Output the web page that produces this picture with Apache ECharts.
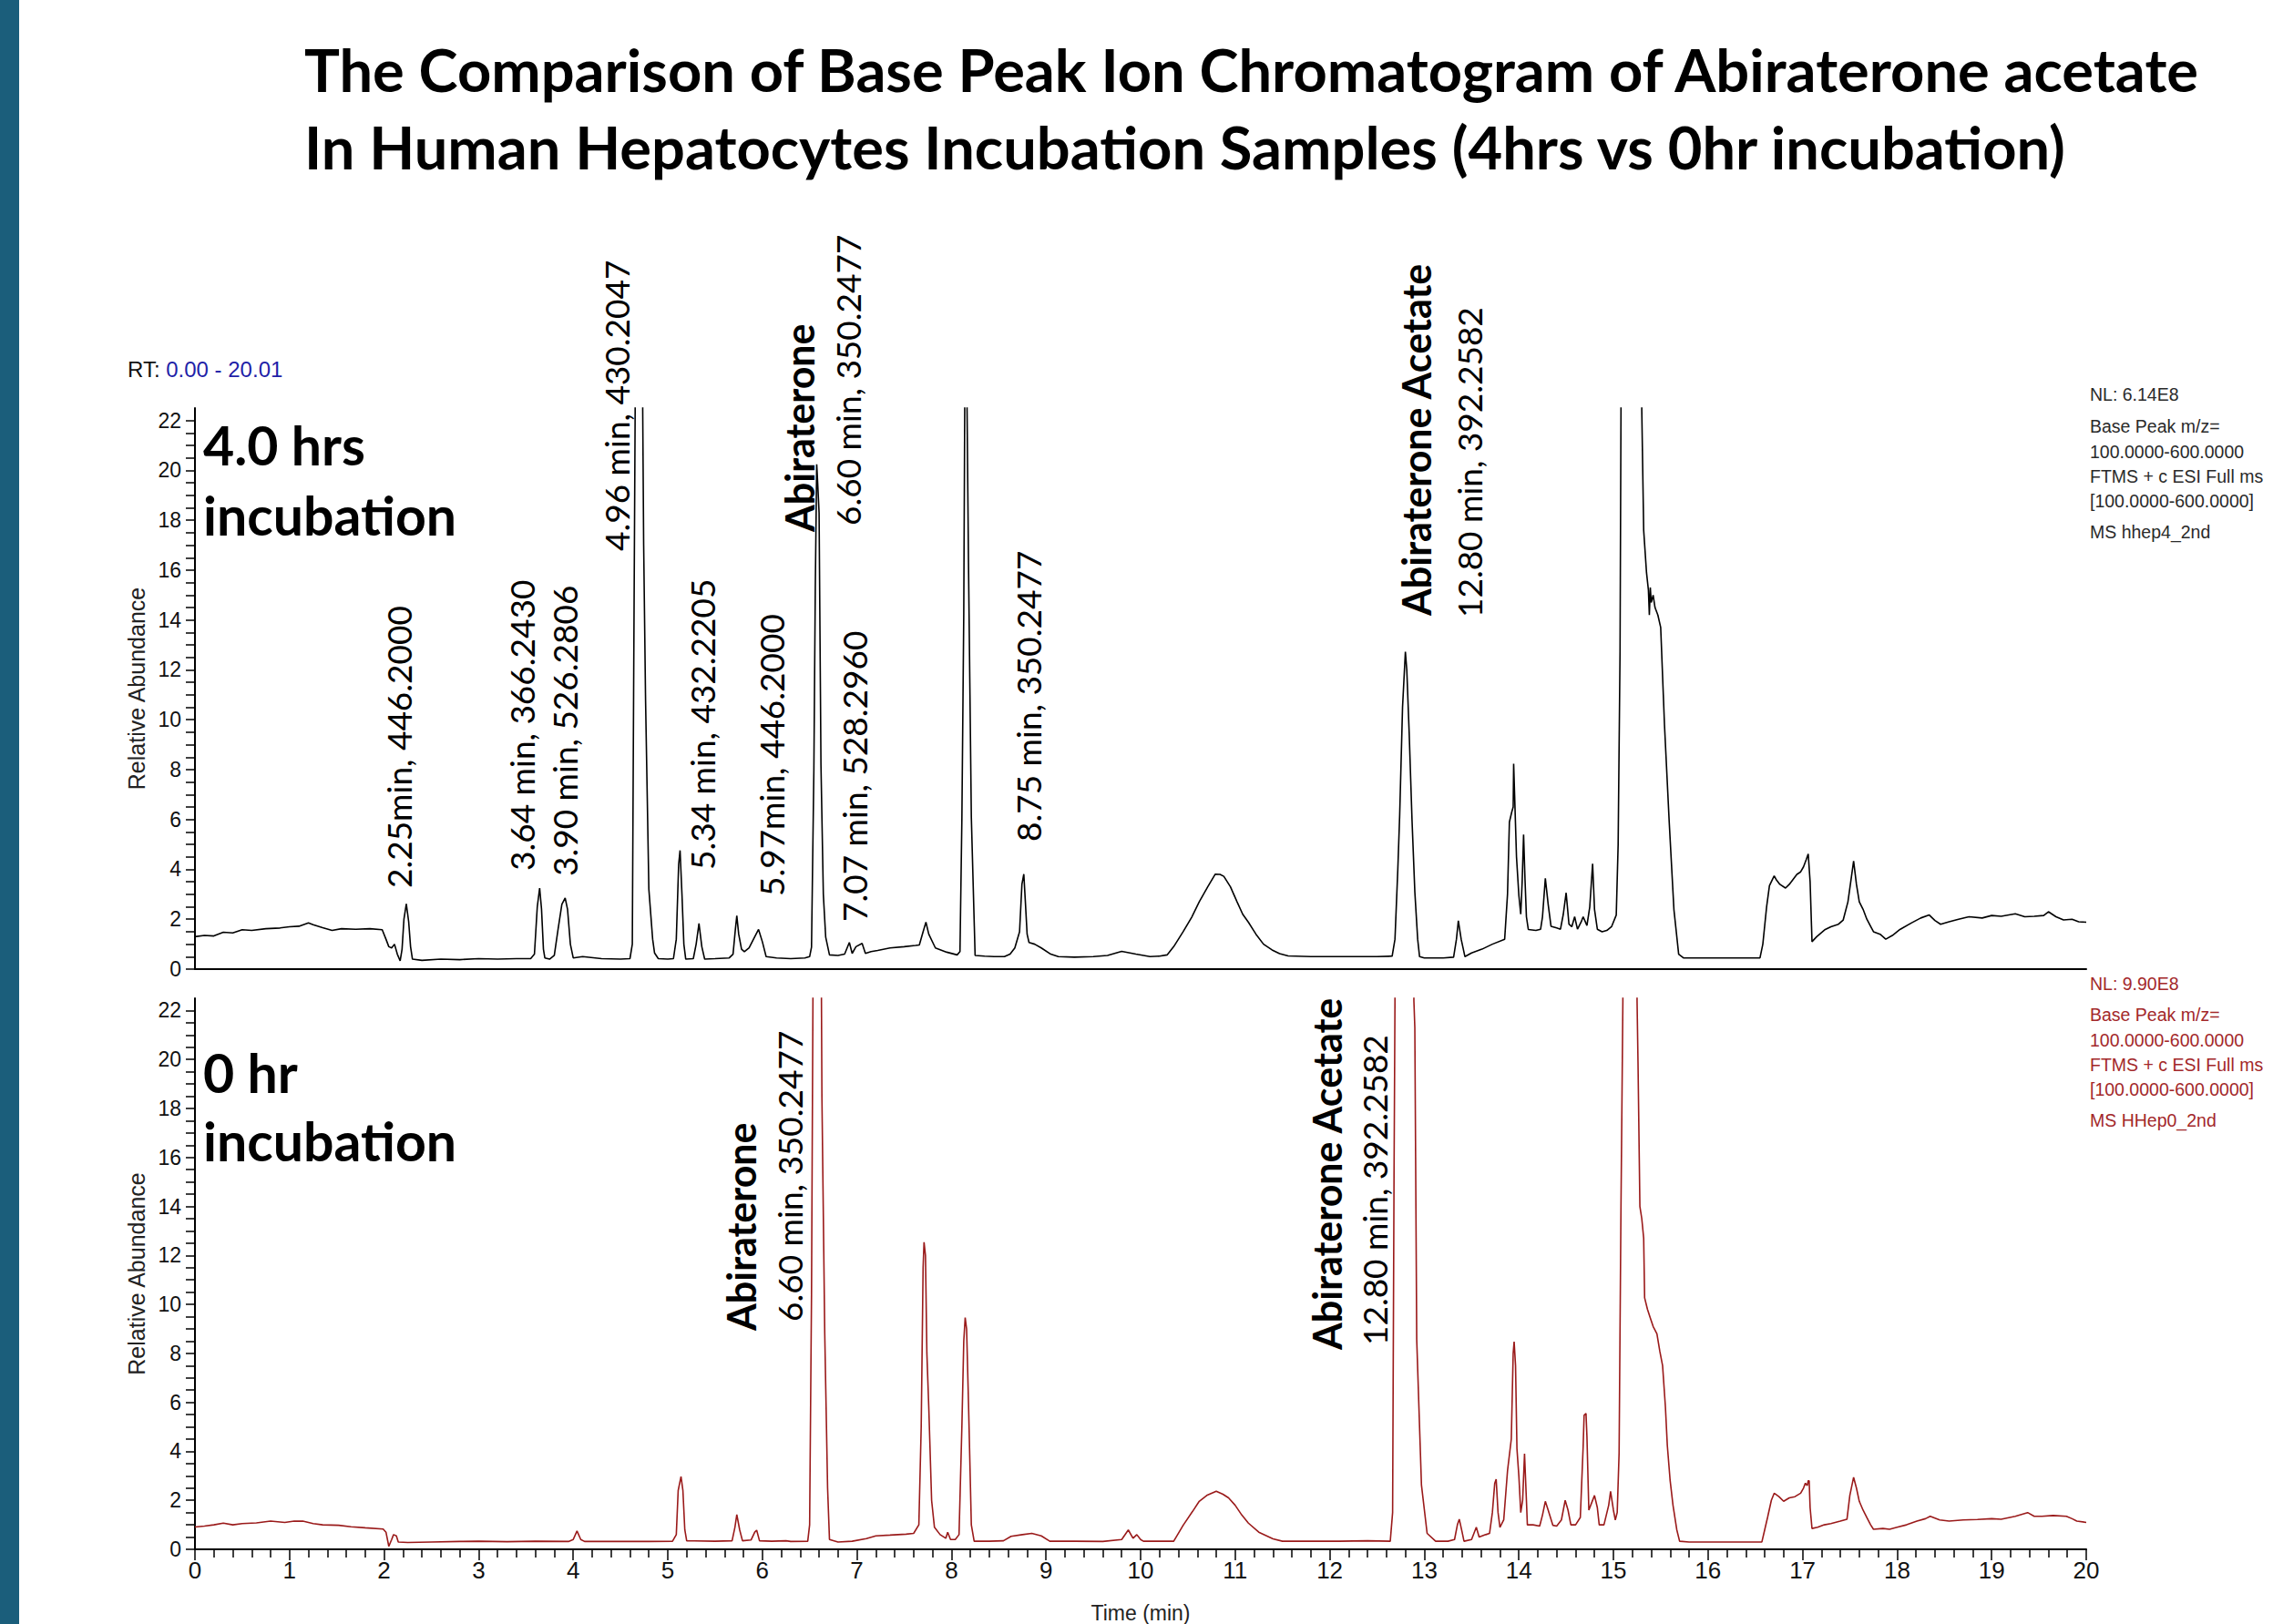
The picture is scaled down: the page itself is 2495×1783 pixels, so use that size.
<!DOCTYPE html>
<html><head><meta charset="utf-8">
<script src="https://cdn.jsdelivr.net/npm/echarts@6/dist/echarts.min.js"></script>
<style>html,body{margin:0;padding:0;background:#fff}#c{width:2495px;height:1783px}</style>
</head><body><div id="c"></div>
<script>
// ---- data ----
const topTime = [0.00,0.10,0.20,0.30,0.40,0.50,0.60,0.75,0.90,1.00,1.10,1.20,1.25,1.35,1.45,1.55,1.70,1.85,1.98,2.02,2.05,2.08,2.11,2.14,2.17,2.19,2.21,2.235,2.26,2.28,2.30,2.40,2.60,2.80,3.00,3.20,3.40,3.55,3.59,3.62,3.645,3.665,3.685,3.70,3.75,3.80,3.84,3.88,3.915,3.94,3.97,4.00,4.10,4.30,4.50,4.60,4.625,4.64,4.655,4.69,4.735,4.745,4.765,4.80,4.84,4.86,4.90,5.00,5.06,5.09,5.115,5.13,5.15,5.17,5.19,5.27,5.30,5.33,5.36,5.39,5.50,5.65,5.69,5.715,5.73,5.75,5.78,5.81,5.86,5.92,5.96,6.00,6.04,6.15,6.30,6.45,6.50,6.52,6.545,6.56,6.575,6.585,6.60,6.62,6.645,6.67,6.71,6.80,6.87,6.92,6.95,6.99,7.055,7.09,7.15,7.22,7.35,7.50,7.62,7.66,7.70,7.73,7.76,7.83,7.95,8.06,8.09,8.11,8.13,8.14,8.15,8.165,8.18,8.21,8.25,8.35,8.45,8.56,8.62,8.67,8.72,8.745,8.765,8.78,8.80,8.82,8.88,8.95,9.05,9.13,9.30,9.50,9.65,9.80,9.95,10.10,10.20,10.28,10.35,10.45,10.54,10.62,10.71,10.79,10.84,10.88,10.95,11.02,11.08,11.14,11.22,11.30,11.39,11.47,11.56,11.80,12.00,12.30,12.50,12.66,12.69,12.72,12.74,12.77,12.80,12.815,12.84,12.87,12.90,12.93,12.95,13.00,13.10,13.20,13.31,13.34,13.36,13.39,13.43,13.50,13.61,13.72,13.85,13.88,13.90,13.925,13.94,13.945,13.955,13.975,14.00,14.02,14.035,14.05,14.065,14.08,14.10,14.18,14.23,14.25,14.28,14.31,14.34,14.40,14.44,14.47,14.50,14.53,14.56,14.59,14.62,14.66,14.68,14.72,14.75,14.78,14.80,14.83,14.88,14.93,14.98,15.03,15.05,15.07,15.08,15.19,15.30,15.32,15.35,15.37,15.38,15.39,15.40,15.42,15.44,15.47,15.50,15.54,15.59,15.64,15.69,15.74,15.90,16.10,16.30,16.55,16.58,16.62,16.65,16.70,16.72,16.76,16.82,16.86,16.90,16.94,16.98,17.01,17.04,17.06,17.08,17.10,17.15,17.24,17.30,17.38,17.43,17.48,17.54,17.57,17.60,17.64,17.68,17.75,17.82,17.88,17.95,18.03,18.15,18.25,18.34,18.40,18.46,18.55,18.65,18.76,18.90,19.00,19.10,19.25,19.35,19.45,19.55,19.60,19.68,19.76,19.85,19.92,20.00];
const topAbund = [1.30,1.35,1.33,1.48,1.45,1.58,1.55,1.62,1.65,1.70,1.72,1.85,1.78,1.66,1.55,1.62,1.60,1.62,1.58,1.20,0.90,0.85,1.00,0.60,0.33,0.80,2.00,2.62,1.90,0.90,0.40,0.35,0.40,0.38,0.42,0.40,0.42,0.42,0.60,2.50,3.25,2.40,0.80,0.45,0.40,0.55,1.60,2.60,2.85,2.40,1.00,0.45,0.50,0.42,0.40,0.42,1.00,12.0,22.4,200,22.4,17.0,10.8,3.2,1.2,0.65,0.42,0.40,0.42,1.20,4.20,4.76,3.00,1.00,0.40,0.42,1.00,1.83,0.90,0.40,0.42,0.45,0.60,1.60,2.14,1.40,0.80,0.70,0.85,1.30,1.59,1.10,0.50,0.45,0.42,0.45,0.50,0.88,8.00,15.30,20.24,19.5,18.30,8.17,3.00,1.28,0.57,0.55,0.60,1.07,0.63,0.90,1.03,0.63,0.70,0.75,0.85,0.90,0.95,0.97,1.50,1.88,1.40,0.85,0.68,0.57,0.70,6.00,14.25,22.4,40,22.4,16.3,6.1,0.55,0.52,0.50,0.50,0.60,0.85,1.50,3.40,3.81,2.80,1.40,1.07,1.00,0.85,0.60,0.50,0.48,0.50,0.55,0.71,0.60,0.50,0.52,0.57,0.90,1.50,2.08,2.70,3.30,3.81,3.80,3.72,3.30,2.70,2.20,1.88,1.40,1.00,0.77,0.62,0.53,0.50,0.50,0.50,0.50,0.52,1.20,4.00,6.20,10.5,12.73,12.00,9.50,6.00,3.10,1.20,0.50,0.45,0.45,0.45,0.48,1.20,1.94,1.20,0.50,0.65,0.80,1.00,1.20,3.00,5.90,6.30,6.50,8.24,7.0,4.5,2.96,2.20,3.50,5.40,3.60,2.10,1.59,1.55,1.60,2.10,3.64,2.60,1.72,1.65,1.60,2.20,3.06,1.80,1.70,2.10,1.60,1.90,2.10,1.75,2.50,4.23,2.40,1.60,1.50,1.55,1.70,2.17,5.00,12.70,22.4,300,22.4,17.6,15.9,15.2,14.2,15.3,14.7,15.0,14.5,14.2,13.7,9.8,5.9,2.38,0.60,0.45,0.45,0.45,0.45,0.45,1.00,2.50,3.35,3.74,3.60,3.40,3.25,3.40,3.60,3.80,3.90,4.10,4.40,4.62,3.50,1.10,1.30,1.59,1.70,1.80,1.97,2.70,4.33,3.40,2.70,2.40,2.00,1.50,1.40,1.20,1.35,1.59,1.85,2.05,2.17,1.95,1.80,1.90,2.00,2.10,2.05,2.15,2.12,2.22,2.10,2.12,2.15,2.30,2.10,1.97,2.00,1.90,1.88];

const botTime = [0.00,0.10,0.20,0.30,0.40,0.50,0.65,0.80,0.95,1.05,1.14,1.25,1.35,1.52,1.65,1.80,1.99,2.02,2.05,2.08,2.10,2.13,2.15,2.25,2.50,2.80,3.00,3.30,3.60,3.95,4.00,4.04,4.08,4.12,4.50,4.80,5.05,5.09,5.11,5.14,5.16,5.18,5.20,5.50,5.68,5.71,5.73,5.76,5.79,5.88,5.92,5.94,5.97,6.10,6.25,6.30,6.48,6.50,6.52,6.535,6.58,6.625,6.63,6.66,6.69,6.71,6.80,6.95,7.10,7.20,7.35,7.52,7.60,7.655,7.68,7.70,7.71,7.725,7.74,7.76,7.79,7.82,7.88,7.94,7.96,7.99,8.04,8.08,8.11,8.13,8.145,8.16,8.18,8.21,8.24,8.40,8.55,8.63,8.75,8.85,8.95,9.04,9.30,9.60,9.80,9.87,9.92,9.96,10.00,10.03,10.20,10.35,10.45,10.55,10.62,10.70,10.80,10.87,10.93,11.00,11.07,11.14,11.25,11.40,11.50,11.80,12.10,12.40,12.64,12.665,12.68,12.69,12.80,12.89,12.90,12.92,12.97,13.03,13.12,13.25,13.32,13.35,13.37,13.40,13.42,13.50,13.55,13.58,13.65,13.69,13.72,13.745,13.76,13.78,13.80,13.84,13.88,13.92,13.94,13.95,13.965,13.98,14.00,14.02,14.04,14.06,14.08,14.09,14.15,14.22,14.25,14.28,14.31,14.36,14.40,14.45,14.49,14.52,14.55,14.60,14.65,14.68,14.69,14.71,14.72,14.74,14.77,14.80,14.83,14.85,14.90,14.95,14.97,15.00,15.02,15.04,15.06,15.08,15.10,15.18,15.25,15.26,15.28,15.30,15.32,15.33,15.36,15.39,15.42,15.46,15.49,15.52,15.55,15.57,15.60,15.63,15.67,15.70,15.80,16.00,16.20,16.40,16.57,16.60,16.63,16.67,16.70,16.75,16.80,16.86,16.92,16.98,17.01,17.03,17.05,17.06,17.07,17.08,17.10,17.16,17.23,17.30,17.40,17.47,17.50,17.54,17.57,17.60,17.64,17.68,17.72,17.75,17.85,17.92,18.00,18.10,18.21,18.30,18.35,18.45,18.55,18.70,18.85,19.00,19.10,19.25,19.38,19.45,19.53,19.65,19.79,19.85,19.90,20.00];
const botAbund = [0.91,0.95,1.00,1.07,1.00,1.05,1.08,1.15,1.10,1.15,1.15,1.05,1.00,0.98,0.92,0.88,0.83,0.70,0.12,0.40,0.60,0.55,0.30,0.28,0.30,0.32,0.33,0.31,0.33,0.32,0.40,0.75,0.40,0.32,0.32,0.32,0.33,0.60,2.40,2.97,2.40,0.80,0.35,0.33,0.35,0.90,1.42,0.80,0.35,0.38,0.70,0.78,0.35,0.33,0.35,0.32,0.33,1.00,10.40,22.4,300,22.4,18.5,8.80,2.50,0.40,0.30,0.33,0.44,0.55,0.58,0.62,0.65,1.00,5.00,11.5,12.54,12.0,8.0,5.80,2.00,0.90,0.60,0.45,0.70,0.40,0.40,0.60,5.00,8.50,9.46,9.00,6.00,1.00,0.33,0.33,0.35,0.53,0.60,0.65,0.55,0.33,0.33,0.32,0.40,0.79,0.45,0.60,0.40,0.33,0.33,0.33,0.98,1.55,1.96,2.20,2.37,2.25,2.10,1.80,1.40,1.07,0.70,0.43,0.33,0.33,0.33,0.35,0.33,1.50,15.20,22.4,300,22.4,21.3,8.56,2.63,0.65,0.33,0.33,0.40,1.00,1.23,0.70,0.33,0.40,0.90,0.50,0.60,0.65,1.50,2.70,2.86,1.50,0.90,1.20,3.20,4.50,8.00,8.48,7.5,4.10,3.00,1.50,2.00,3.90,2.00,1.00,1.00,0.95,1.40,1.96,1.60,0.98,0.95,1.20,2.00,1.60,1.00,1.00,1.30,4.20,5.47,5.55,4.60,1.60,1.90,2.20,1.70,1.00,1.00,1.80,2.37,1.60,1.20,1.50,3.92,14.00,22.4,300,22.4,19.9,14.00,13.5,12.7,10.27,9.80,9.45,9.10,8.80,8.10,7.50,5.80,4.24,2.80,1.80,0.80,0.33,0.30,0.30,0.30,0.30,0.30,0.80,1.30,2.00,2.29,2.15,1.96,2.10,2.15,2.29,2.50,2.70,2.60,2.80,2.80,1.70,0.85,0.90,1.00,1.05,1.15,1.23,2.20,2.94,2.50,1.96,1.60,1.30,1.00,0.82,0.85,0.82,0.90,1.00,1.15,1.25,1.35,1.20,1.15,1.20,1.22,1.25,1.23,1.35,1.50,1.35,1.35,1.38,1.35,1.25,1.15,1.10];

const xTickLabels = [0,1,2,3,4,5,6,7,8,9,10,11,12,13,14,15,16,17,18,19,20];
const yTickLabels = [0,2,4,6,8,10,12,14,16,18,20,22];

const titleLines = ['The Comparison of Base Peak Ion Chromatogram of Abiraterone acetate',
                    'In Human Hepatocytes Incubation Samples (4hrs vs 0hr incubation)'];
const topInfo = ['NL: 6.14E8','Base Peak m/z=','100.0000-600.0000','FTMS + c ESI Full ms','[100.0000-600.0000]','MS hhep4_2nd'];
const botInfo = ['NL: 9.90E8','Base Peak m/z=','100.0000-600.0000','FTMS + c ESI Full ms','[100.0000-600.0000]','MS HHep0_2nd'];
const topPeakLabels = ['2.25min, 446.2000','3.64 min, 366.2430','3.90 min, 526.2806','4.96 min, 430.2047','5.34 min, 432.2205','5.97min, 446.2000','Abiraterone','6.60 min, 350.2477','7.07 min, 528.2960','8.75 min, 350.2477','Abiraterone Acetate','12.80 min, 392.2582'];
const botPeakLabels = ['Abiraterone','6.60 min, 350.2477','Abiraterone Acetate','12.80 min, 392.2582'];

// ---- build ----
const zip = (a, b) => a.map((t, i) => [t, b[i]]);
const yMinor = []; for (let v = 0; v <= 22; v += 0.5) yMinor.push(v);

const FONT_LBL = "'Liberation Sans', Arial, sans-serif";
const FONT_CAL = "Lato, 'Open Sans', sans-serif";

function yAx(gi, name) {
  return {
    gridIndex: gi, type: 'value', min: 0, max: 22.5, interval: 2,
    name: name, nameLocation: 'middle', nameRotate: 90, nameGap: 50,
    nameTextStyle: { fontFamily: FONT_LBL, fontSize: 25, color: '#222' },
    axisLine: { show: true, lineStyle: { color: '#000', width: 2 } },
    axisTick: { show: true, length: 10, customValues: yMinor, lineStyle: { color: '#000', width: 1.5 } },
    axisLabel: { customValues: yTickLabels, margin: 15, fontFamily: FONT_LBL, fontSize: 23, color: '#111' },
    splitLine: { show: false }
  };
}

const chart = echarts.init(document.getElementById('c'), null, { renderer: 'svg' });

const graphics = [
  { type: 'rect', shape: { x: 0, y: 0, width: 21, height: 1783 }, style: { fill: '#1b5e7b' } },
  { type: 'text', x: 334, y: 76, style: { text: titleLines[0], fontFamily: FONT_CAL, fontWeight: 'bold', fontSize: 65, fill: '#000', verticalAlign: 'middle' } },
  { type: 'text', x: 334, y: 161, style: { text: titleLines[1], fontFamily: FONT_CAL, fontWeight: 'bold', fontSize: 65, fill: '#000', verticalAlign: 'middle' } },
  { type: 'text', x: 140, y: 405, style: { rich: { a: { fill: '#111', fontSize: 24, fontFamily: FONT_LBL }, b: { fill: '#1f1fa8', fontSize: 24, fontFamily: FONT_LBL } }, text: '{a|RT: }{b|0.00 - 20.01}', verticalAlign: 'middle' } },
  { type: 'text', x: 223, y: 488, style: { text: '4.0 hrs', fontFamily: FONT_CAL, fontWeight: 'bold', fontSize: 59, fill: '#000', verticalAlign: 'middle' } },
  { type: 'text', x: 223, y: 565, style: { text: 'incubation', fontFamily: FONT_CAL, fontWeight: 'bold', fontSize: 59, fill: '#000', verticalAlign: 'middle' } },
  { type: 'text', x: 223, y: 1177, style: { text: '0 hr', fontFamily: FONT_CAL, fontWeight: 'bold', fontSize: 59, fill: '#000', verticalAlign: 'middle' } },
  { type: 'text', x: 223, y: 1252, style: { text: 'incubation', fontFamily: FONT_CAL, fontWeight: 'bold', fontSize: 59, fill: '#000', verticalAlign: 'middle' } }
];
const topInfoY = [433, 468, 496, 523, 550, 584];
const botInfoY = [1080, 1114, 1142, 1169, 1196, 1230];
topInfo.forEach((s, i) => graphics.push({ type: 'text', x: 2294, y: topInfoY[i], style: { text: s, fontFamily: FONT_LBL, fontSize: 19.5, fill: '#2a2a2a', verticalAlign: 'middle' } }));
botInfo.forEach((s, i) => graphics.push({ type: 'text', x: 2294, y: botInfoY[i], style: { text: s, fontFamily: FONT_LBL, fontSize: 19.5, fill: '#a3282a', verticalAlign: 'middle' } }));

// rotated peak labels: [x centre, y start(bottom), bold]
const topLabelPos = [[437,975,0],[572,956,0],[619,962,0],[676,605,0],[770,955,0],[846,984,0],[877,584,1],[930,577,0],[937,1012,0],[1128,924,0],[1554,676,1],[1612,678,0]];
const botLabelPos = [[813,1461,1],[866,1451,0],[1456,1482,1],[1508,1477,0]];
function addRot(texts, pos) {
  texts.forEach((s, i) => {
    const p = pos[i];
    graphics.push({ type: 'text', x: p[0], y: p[1], rotation: Math.PI / 2,
      style: { text: s, fontFamily: FONT_CAL, fontWeight: p[2] ? 'bold' : 'normal', fontSize: p[2] ? 43 : 37, fill: '#000', align: 'left', verticalAlign: 'middle' } });
  });
}
addRot(topPeakLabels, topLabelPos);
addRot(botPeakLabels, botLabelPos);

chart.setOption({
  animation: false,
  backgroundColor: '#fff',
  grid: [
    { left: 214, width: 2076, top: 448, height: 616 },
    { left: 214, width: 2076, top: 1096, height: 616 }
  ],
  xAxis: [
    { gridIndex: 0, type: 'value', min: 0, max: 20, interval: 1,
      axisLine: { show: true, onZero: false, lineStyle: { color: '#000', width: 2 } },
      axisTick: { show: false }, axisLabel: { show: false }, splitLine: { show: false } },
    { gridIndex: 1, type: 'value', min: 0, max: 20, interval: 1,
      name: 'Time (min)', nameLocation: 'middle', nameGap: 58,
      nameTextStyle: { fontFamily: FONT_LBL, fontSize: 23, color: '#222' },
      axisLine: { show: true, onZero: false, lineStyle: { color: '#000', width: 2 } },
      axisTick: { show: true, length: 12, lineStyle: { color: '#000', width: 1.5 } },
      minorTick: { show: true, splitNumber: 5, length: 9, lineStyle: { color: '#000', width: 1.5 } },
      axisLabel: { margin: 10, fontFamily: FONT_LBL, fontSize: 26, color: '#111', formatter: v => xTickLabels.includes(v) ? String(v) : '' },
      splitLine: { show: false } }
  ],
  yAxis: [ yAx(0, 'Relative Abundance'), yAx(1, 'Relative Abundance') ],
  series: [
    { type: 'line', xAxisIndex: 0, yAxisIndex: 0, data: zip(topTime, topAbund), showSymbol: false, clip: true,
      lineStyle: { color: '#000', width: 1.6 } },
    { type: 'line', xAxisIndex: 1, yAxisIndex: 1, data: zip(botTime, botAbund), showSymbol: false, clip: true,
      lineStyle: { color: '#9a1a1a', width: 1.6 } }
  ],
  graphic: graphics
});
</script></body></html>
